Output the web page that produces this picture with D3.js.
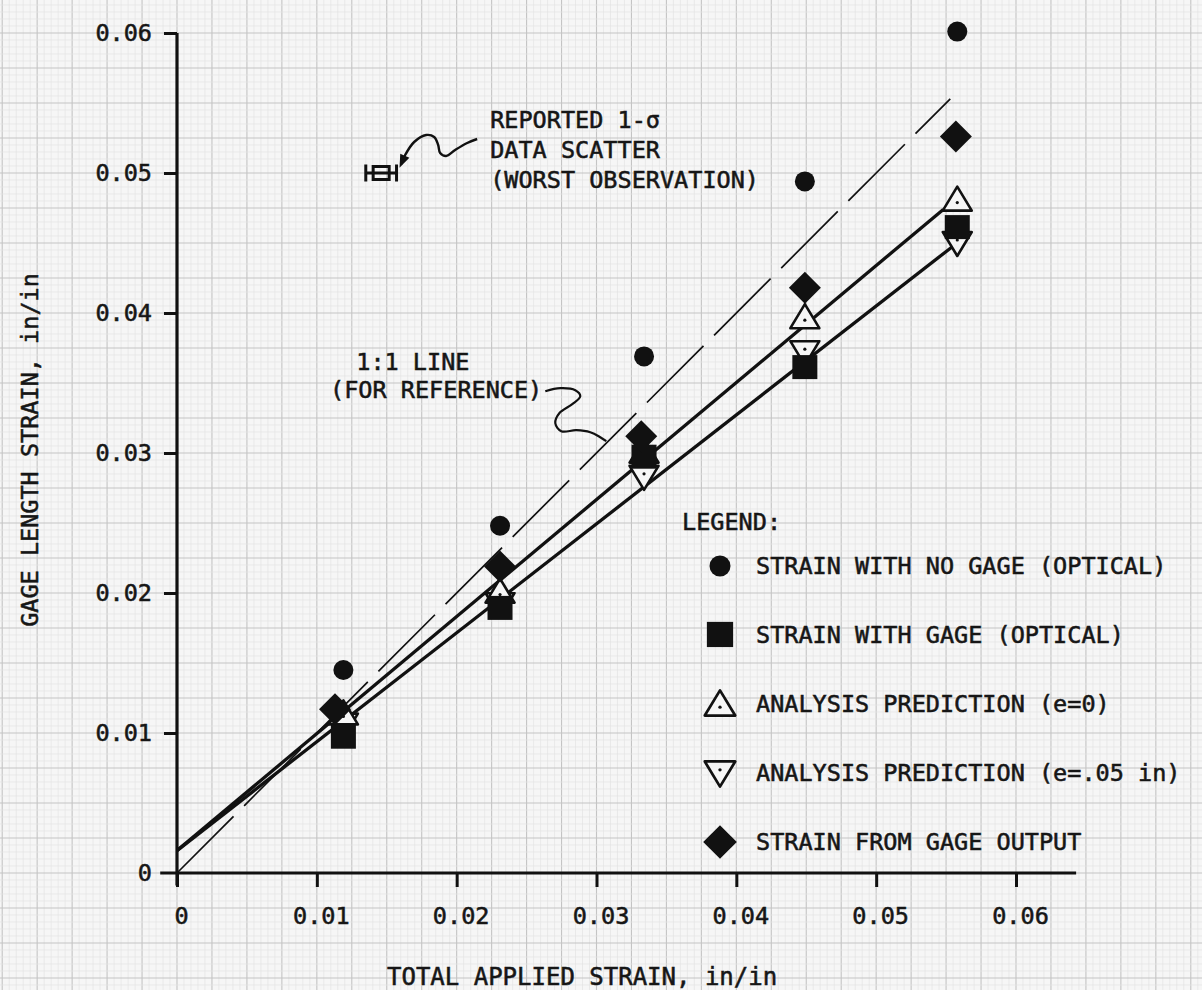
<!DOCTYPE html>
<html><head><meta charset="utf-8">
<script src="https://cdn.jsdelivr.net/npm/d3@7"></script>
<style>
html,body{margin:0;padding:0;background:#f5f5f5;}
svg{display:block;}
text{font-family:"DejaVu Sans Mono",monospace;fill:#161616;stroke:#161616;stroke-width:0.55px;}
</style></head><body>
<svg id="chart" width="1202" height="990"></svg>
<script>
// ---- data ----
const appliedStrain    = [0.0119, 0.0231, 0.0334, 0.0449, 0.0558];
const strainNoGage     = [0.0145, 0.0248, 0.0369, 0.0494, 0.0601];
const strainWithGage   = [0.0097, 0.0189, 0.0297, 0.0361, 0.0461];
const predictionE0     = [0.0114, 0.0201, 0.0301, 0.0397, 0.0481];
const predictionE05    = [0.0106, 0.0192, 0.0283, 0.0372, 0.0450];
const gageOutputX      = [0.0113, 0.0231, 0.0332, 0.0449, 0.0557];
const strainGageOutput = [0.0117, 0.0219, 0.0312, 0.0418, 0.0526];

const fitE0    = [[0, 0.0016], [0.0548, 0.0474]];
const fitE05   = [[0, 0.0016], [0.0554, 0.0447]];
const oneToOne = [[0, 0], [0.0553, 0.0553]];
const scatterPoint = [0.0146, 0.05];
const scatterSigma = 0.0011;

const xTickValues = [0, 0.01, 0.02, 0.03, 0.04, 0.05, 0.06];
const xTickLabels = ["0", "0.01", "0.02", "0.03", "0.04", "0.05", "0.06"];
const yTickValues = [0, 0.01, 0.02, 0.03, 0.04, 0.05, 0.06];
const yTickLabels = ["0", "0.01", "0.02", "0.03", "0.04", "0.05", "0.06"];

const xTitle = "TOTAL APPLIED STRAIN, in/in";
const yTitle = "GAGE LENGTH STRAIN, in/in";
const legendTitle = "LEGEND:";
const legendLabels = [
  "STRAIN WITH NO GAGE (OPTICAL)",
  "STRAIN WITH GAGE (OPTICAL)",
  "ANALYSIS PREDICTION (e=0)",
  "ANALYSIS PREDICTION (e=.05 in)",
  "STRAIN FROM GAGE OUTPUT"
];
const scatterNote = ["REPORTED 1-\u03c3", "DATA SCATTER", "(WORST OBSERVATION)"];
const refNote = ["1:1 LINE", "(FOR REFERENCE)"];

// ---- layout ----
const W = 1202, H = 990;
const svg = d3.select("#chart");
const x = d3.scaleLinear().domain([0, 0.06]).range([177, 1016]);
const y = d3.scaleLinear().domain([0, 0.06]).range([873, 33]);
const INK = "#111";

// graph paper
const paper = svg.append("g");
paper.append("rect").attr("width", W).attr("height", H).attr("fill", "#f6f6f6");
const step = 0.0005;
const xi0 = Math.floor(x.invert(0) / step), xi1 = Math.ceil(x.invert(W) / step);
const yi0 = Math.floor(y.invert(H) / step), yi1 = Math.ceil(y.invert(0) / step);
d3.range(xi0, xi1 + 1).forEach(i => {
  const major = i % 5 === 0;
  paper.append("line").attr("x1", x(i * step)).attr("x2", x(i * step)).attr("y1", 0).attr("y2", H)
    .attr("stroke", major ? "#c4c4c4" : "#e4e4e4").attr("stroke-width", major ? 1.1 : 0.7);
});
d3.range(yi0, yi1 + 1).forEach(i => {
  const major = i % 5 === 0;
  paper.append("line").attr("y1", y(i * step)).attr("y2", y(i * step)).attr("x1", 0).attr("x2", W)
    .attr("stroke", major ? "#c4c4c4" : "#e4e4e4").attr("stroke-width", major ? 1.1 : 0.7);
});

// axes
const xAxis = d3.axisBottom(x).tickValues(xTickValues).tickFormat((d, i) => xTickLabels[i])
  .tickSize(14).tickPadding(20).tickSizeOuter(0);
const yAxis = d3.axisLeft(y).tickValues(yTickValues).tickFormat((d, i) => yTickLabels[i])
  .tickSize(13).tickPadding(12).tickSizeOuter(0);
const gx = svg.append("g").attr("transform", `translate(0,${y(0)})`).call(xAxis);
const gy = svg.append("g").attr("transform", `translate(${x(0)},0)`).call(yAxis);
[gx, gy].forEach(g => {
  g.select(".domain").remove();
  g.selectAll(".tick line").attr("stroke", INK).attr("stroke-width", 3);
  g.selectAll(".tick text").attr("font-family", "DejaVu Sans Mono").attr("font-size", 23.5).attr("fill", "#161616");
});
gx.selectAll(".tick text").attr("dx", 4);
gy.selectAll(".tick").filter(d => d === 0).select("line").remove();
svg.append("line").attr("x1", x(-0.0012)).attr("x2", x(0.0643)).attr("y1", y(0)).attr("y2", y(0))
  .attr("stroke", INK).attr("stroke-width", 3.2);
svg.append("line").attr("x1", x(0)).attr("x2", x(0)).attr("y1", y(-0.0009)).attr("y2", y(0.06))
  .attr("stroke", INK).attr("stroke-width", 3.2);

// axis titles
svg.append("text").attr("x", 387).attr("y", 985).attr("font-size", 24).text(xTitle);
svg.append("text").attr("transform", "translate(38,450) rotate(-90)").attr("text-anchor", "middle")
  .attr("font-size", 23.5).text(yTitle);

// lines
const line = d3.line().x(d => x(d[0])).y(d => y(d[1]));
svg.append("path").attr("d", line(oneToOne)).attr("fill", "none").attr("stroke", INK)
  .attr("stroke-width", 1.7).attr("stroke-dasharray", "80,15");
[fitE0, fitE05].forEach(f => svg.append("path").attr("d", line(f)).attr("fill", "none")
  .attr("stroke", INK).attr("stroke-width", 3.3));

// marker shapes
const shapes = {
  circle: g => g.append("circle").attr("r", 10).attr("fill", INK),
  square: g => g.append("rect").attr("x", -12.5).attr("y", -12.5).attr("width", 25).attr("height", 24).attr("fill", INK),
  triUp: g => { g.append("path").attr("d", "M0,-13L14.5,11L-14.5,11Z").attr("fill", "#f6f6f6").attr("stroke", INK).attr("stroke-width", 2.6).attr("stroke-linejoin", "round");
                g.append("circle").attr("cy", 3).attr("r", 1.6).attr("fill", INK); },
  triDown: g => { g.append("path").attr("d", "M0,13L14.5,-11L-14.5,-11Z").attr("fill", "#f6f6f6").attr("stroke", INK).attr("stroke-width", 2.6).attr("stroke-linejoin", "round");
                g.append("circle").attr("cy", -3).attr("r", 1.6).attr("fill", INK); },
  diamond: g => g.append("path").attr("d", "M0,-16L16,0L0,16L-16,0Z").attr("fill", INK)
};

function plotSeries(xs, ys, shape) {
  xs.forEach((xv, i) => {
    const g = svg.append("g").attr("transform", `translate(${x(xv)},${y(ys[i])})`);
    shapes[shape](g);
  });
}
plotSeries(appliedStrain, predictionE05, "triDown");
plotSeries(appliedStrain, predictionE0, "triUp");
plotSeries(appliedStrain, strainWithGage, "square");
plotSeries(appliedStrain, strainNoGage, "circle");
plotSeries(gageOutputX, strainGageOutput, "diamond");

// 1-sigma scatter marker
const sp = [x(scatterPoint[0]), y(scatterPoint[1])];
const sg = svg.append("g").attr("transform", `translate(${sp[0]},${sp[1]})`)
  .attr("stroke", INK).attr("stroke-width", 3).attr("fill", "none");
const dx = x(scatterSigma) - x(0);
sg.append("line").attr("x1", -dx).attr("x2", dx).attr("y1", 0).attr("y2", 0);
sg.append("line").attr("x1", -dx).attr("x2", -dx).attr("y1", -8.5).attr("y2", 8.5);
sg.append("line").attr("x1", dx).attr("x2", dx).attr("y1", -8.5).attr("y2", 8.5);
sg.append("rect").attr("x", -8).attr("y", -6.5).attr("width", 16).attr("height", 13);

// annotation: reported scatter
const curve = d3.line().curve(d3.curveCatmullRom);
const arrowPts = [[96,-34],[86,-30],[74,-23],[65,-17],[59,-20],[57,-28],[53,-36],[45,-38],[33,-31],[24,-18],[20,-9]]
  .map(p => [sp[0] + p[0], sp[1] + p[1]]);
svg.append("path").attr("d", curve(arrowPts)).attr("fill", "none").attr("stroke", INK).attr("stroke-width", 2.4);
const tip = arrowPts[arrowPts.length - 1], prev = arrowPts[arrowPts.length - 2];
const ang = Math.atan2(tip[1] - prev[1], tip[0] - prev[0]) * 180 / Math.PI;
svg.append("path").attr("d", "M4,0L-9,-5L-9,5Z").attr("fill", INK)
  .attr("transform", `translate(${tip[0]},${tip[1]}) rotate(${ang})`);
scatterNote.forEach((t, i) => svg.append("text").attr("x", sp[0] + 109).attr("y", sp[1] - 45 + i * 30)
  .attr("font-size", 23.5).text(t));

// annotation: 1:1 line
const ra = [x(0.0307), y(0.0307)];
const refPts = [[-61,-52],[-46,-55],[-31,-53],[-26,-47],[-34,-39],[-47,-30],[-51,-20],[-45,-12],[-30,-13],[-16,-11],[-6,-6],[0,-2]]
  .map(p => [ra[0] + p[0], ra[1] + p[1]]);
svg.append("path").attr("d", curve(refPts)).attr("fill", "none").attr("stroke", INK).attr("stroke-width", 2.2);
svg.append("text").attr("x", ra[0] - 250).attr("y", ra[1] - 73).attr("font-size", 23.5).text(refNote[0]);
svg.append("text").attr("x", ra[0] - 64).attr("y", ra[1] - 45).attr("text-anchor", "end")
  .attr("font-size", 23.5).text(refNote[1]);

// legend
const legend = svg.append("g").attr("transform", "translate(682,530)");
legend.append("text").attr("x", 0).attr("y", 0).attr("font-size", 23.5).text(legendTitle);
const legendShapes = ["circle", "square", "triUp", "triDown", "diamond"];
legendLabels.forEach((lab, i) => {
  const row = legend.append("g").attr("transform", `translate(0,${44 + i * 69})`);
  const m = row.append("g").attr("transform", "translate(38,-8) scale(1.05)");
  shapes[legendShapes[i]](m);
  row.append("text").attr("x", 74).attr("y", 0).attr("font-size", 23.5).text(lab);
});
</script>
</body></html>
